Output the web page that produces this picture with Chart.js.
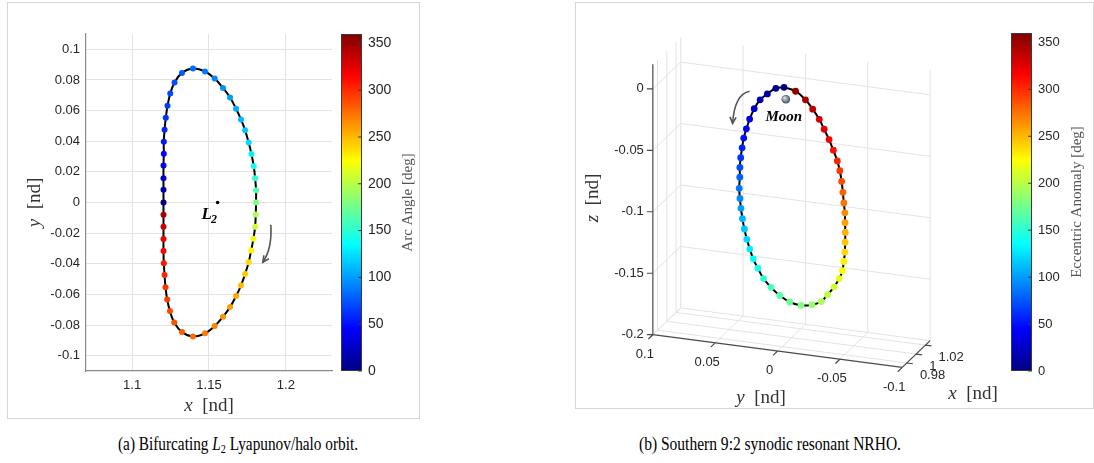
<!DOCTYPE html>
<html>
<head>
<meta charset="utf-8">
<script src="https://cdn.jsdelivr.net/npm/chart.js@4.4.1/dist/chart.umd.min.js"></script>
<style>
  body { margin: 0; background: #fff; width: 1094px; height: 463px; overflow: hidden; position: relative; }
  .panel { position: absolute; border: 1px solid #d6d6d6; background: #fff; }
  .panel canvas { display: block; }
  #panelA { left: 7px; top: 2px; width: 411px; height: 415px; }
  #panelB { left: 575px; top: 2px; width: 517px; height: 405px; }
  .caption { position: absolute; top: 434px; font-family: "Liberation Serif", "Times New Roman", serif; font-size: 18px; color: #000; white-space: nowrap; }
  .caption sub { font-size: 12px; vertical-align: -3px; line-height: 0; }
</style>
</head>
<body>
<div class="panel" id="panelA"><canvas id="chartA" width="411" height="415"></canvas></div>
<div class="panel" id="panelB"><canvas id="chartB" width="517" height="405"></canvas></div>
<div class="caption" id="capA">(a) Bifurcating <i>L</i><sub>2</sub> Lyapunov/halo orbit.</div>
<div class="caption" id="capB">(b) Southern 9:2 synodic resonant NRHO.</div>

<script>
// ---- (a) L2 Lyapunov/halo orbit, x-y plane ----
const orbitX = [1.1204, 1.1204, 1.1204, 1.1204, 1.1206, 1.1206, 1.1211, 1.1219, 1.1230, 1.1248,
                1.1276, 1.1324, 1.1396, 1.1474, 1.1537, 1.1591, 1.1637, 1.1676, 1.1708, 1.1735,
                1.1758, 1.1776, 1.1791, 1.1800, 1.1806, 1.1806, 1.1804, 1.1800, 1.1789, 1.1774,
                1.1758, 1.1735, 1.1708, 1.1676, 1.1637, 1.1591, 1.1537, 1.1474, 1.1396, 1.1324,
                1.1274, 1.1246, 1.1228, 1.1217, 1.1211, 1.1206, 1.1204, 1.1204, 1.1204, 1.1204];
const orbitY = [0.0000, 0.0083, 0.0159, 0.0241, 0.0319, 0.0397, 0.0475, 0.0553, 0.0631, 0.0712,
                0.0783, 0.0846, 0.0874, 0.0855, 0.0809, 0.0748, 0.0686, 0.0612, 0.0542, 0.0471,
                0.0391, 0.0317, 0.0237, 0.0159, 0.0080, 0.0000, -0.0078, -0.0158, -0.0236, -0.0314,
                -0.0390, -0.0466, -0.0542, -0.0611, -0.0683, -0.0746, -0.0807, -0.0854, -0.0874, -0.0846,
                -0.0783, -0.0709, -0.0633, -0.0553, -0.0473, -0.0397, -0.0316, -0.0238, -0.0158, -0.0080];
const arcAngle = [0, 15.4, 27.9, 38.7, 46.9, 53.0, 58.2, 62.7, 66.4, 70.1,
                  73.7, 77.9, 82.9, 87.9, 92.3, 96.6, 100.9, 105.6, 110.5, 116.0,
                  122.9, 130.5, 140.4, 151.7, 165.1, 180.0, 194.6, 208.2, 219.7, 229.4,
                  237.0, 243.7, 249.5, 254.4, 259.1, 263.4, 267.7, 272.1, 277.1, 282.1,
                  286.4, 290.1, 293.6, 297.5, 301.9, 307.0, 313.6, 321.7, 332.3, 345.1];
const l2Point = { x: 1.1556, y: 0 };
const aXTicks = [1.1, 1.15, 1.2];
const aYTicks = [-0.1, -0.08, -0.06, -0.04, -0.02, 0, 0.02, 0.04, 0.06, 0.08, 0.1];

// ---- (b) 9:2 NRHO, 3-D ----
const nrhoX = [0.9880, 0.9884, 0.9894, 0.9905, 0.9920, 0.9937, 0.9953, 0.9968, 0.9984, 0.9999,
               1.0016, 1.0031, 1.0048, 1.0064, 1.0080, 1.0096, 1.0111, 1.0127, 1.0142, 1.0156,
               1.0170, 1.0185, 1.0198, 1.0208, 1.0217, 1.0220, 1.0216, 1.0210, 1.0197, 1.0184,
               1.0170, 1.0156, 1.0142, 1.0127, 1.0111, 1.0096, 1.0080, 1.0065, 1.0050, 1.0033,
               1.0016, 0.9999, 0.9985, 0.9969, 0.9953, 0.9938, 0.9924, 0.9909, 0.9896, 0.9884];
const nrhoY = [0.0015, 0.0082, 0.0154, 0.0216, 0.0269, 0.0312, 0.0344, 0.0371, 0.0390, 0.0407,
               0.0420, 0.0426, 0.0437, 0.0437, 0.0435, 0.0429, 0.0419, 0.0405, 0.0387, 0.0365,
               0.0333, 0.0293, 0.0238, 0.0171, 0.0095, 0.0005, -0.0084, -0.0160, -0.0216, -0.0273,
               -0.0320, -0.0350, -0.0367, -0.0381, -0.0389, -0.0396, -0.0400, -0.0404, -0.0401, -0.0400,
               -0.0396, -0.0388, -0.0373, -0.0347, -0.0319, -0.0285, -0.0251, -0.0204, -0.0151, -0.0076];
const nrhoZ = [0.0078, 0.0060, 0.0001, -0.0059, -0.0144, -0.0240, -0.0330, -0.0414, -0.0502, -0.0590,
               -0.0677, -0.0763, -0.0861, -0.0949, -0.1035, -0.1124, -0.1212, -0.1300, -0.1382, -0.1464,
               -0.1541, -0.1625, -0.1694, -0.1755, -0.1801, -0.1818, -0.1799, -0.1761, -0.1693, -0.1617,
               -0.1538, -0.1465, -0.1383, -0.1299, -0.1212, -0.1126, -0.1040, -0.0954, -0.0869, -0.0776,
               -0.0682, -0.0590, -0.0507, -0.0417, -0.0329, -0.0244, -0.0163, -0.0081, -0.0007, 0.0057];
const eccAnomaly = [0, 7.2, 14.4, 21.6, 28.8, 36.0, 43.2, 50.4, 57.6, 64.8,
                    72.0, 79.2, 86.4, 93.6, 100.8, 108.0, 115.2, 122.4, 129.6, 136.8,
                    144.0, 151.2, 158.4, 165.6, 172.8, 180.0, 187.2, 194.4, 201.6, 208.8,
                    216.0, 223.2, 230.4, 237.6, 244.8, 252.0, 259.2, 266.4, 273.6, 280.8,
                    288.0, 295.2, 302.4, 309.6, 316.8, 324.0, 331.2, 338.4, 345.6, 352.8];
const moonPos = { x: 0.98785, y: 0, z: 0 };
const bXTicks = [0.98, 1, 1.02];
const bYTicks = [0.1, 0.05, 0, -0.05, -0.1];
const bZTicks = [-0.2, -0.15, -0.1, -0.05, 0];

const cbTicks = [0, 50, 100, 150, 200, 250, 300, 350];
const cbMax = 360;

const SANS = '"Liberation Sans", Arial, sans-serif';
const SERIF = '"Liberation Serif", "Times New Roman", serif';
const TICK_FONT = '13px ' + SANS;
const TICK_COLOR = '#262626';
const GRID_COLOR = '#e3e3e3';

const fmt = v => String(parseFloat(v.toFixed(4)));

// MATLAB-style jet colormap, v in [0, 1]
function jet(v) {
    const c = t => Math.max(0, Math.min(1, t));
    const r = c(1.5 - Math.abs(4 * v - 3));
    const g = c(1.5 - Math.abs(4 * v - 2));
    const b = c(1.5 - Math.abs(4 * v - 1));
    return `rgb(${Math.round(r * 255)},${Math.round(g * 255)},${Math.round(b * 255)})`;
}

function drawColorbar(ctx, box, label, labelX, fontSize) {
    const { left, top, right, bottom } = box;
    const grad = ctx.createLinearGradient(0, bottom, 0, top);
    for (let i = 0; i <= 40; i++) grad.addColorStop(i / 40, jet(i / 40));
    ctx.save();
    ctx.fillStyle = grad;
    ctx.fillRect(left, top, right - left, bottom - top);
    ctx.strokeStyle = '#3a3a3a';
    ctx.lineWidth = 1;
    ctx.strokeRect(left + 0.5, top + 0.5, right - left - 1, bottom - top - 1);
    ctx.font = fontSize + 'px ' + SANS;
    ctx.fillStyle = TICK_COLOR;
    ctx.textAlign = 'left';
    ctx.textBaseline = 'middle';
    cbTicks.forEach(t => {
        const y = bottom - t / cbMax * (bottom - top);
        ctx.beginPath();
        ctx.moveTo(right - 4, y);
        ctx.lineTo(right, y);
        ctx.stroke();
        ctx.fillText(String(t), right + 6, y);
    });
    // rotated colorbar title
    ctx.translate(labelX, (top + bottom) / 2);
    ctx.rotate(-Math.PI / 2);
    ctx.font = '15px ' + SERIF;
    ctx.fillStyle = '#555';
    ctx.textAlign = 'center';
    ctx.fillText(label, 0, 0);
    ctx.restore();
}

// axis title like "y [nd]": italic variable + upright unit
function drawAxisTitle(ctx, x, y, sym, rotate) {
    ctx.save();
    ctx.translate(x, y);
    if (rotate) ctx.rotate(-Math.PI / 2);
    const fI = 'italic 19px ' + SERIF;
    const fN = '19px ' + SERIF;
    ctx.font = fI; const w1 = ctx.measureText(sym).width;
    ctx.font = fN; const w2 = ctx.measureText('  [nd]').width;
    const x0 = -(w1 + w2) / 2;
    ctx.fillStyle = '#333';
    ctx.textBaseline = 'middle';
    ctx.textAlign = 'left';
    ctx.font = fI; ctx.fillText(sym, x0, 0);
    ctx.font = fN; ctx.fillText('  [nd]', x0 + w1, 0);
    ctx.restore();
}

function drawCurvedArrow(ctx, p0, pc, p1) {
    ctx.save();
    ctx.strokeStyle = '#555';
    ctx.lineWidth = 1.6;
    ctx.beginPath();
    ctx.moveTo(p0[0], p0[1]);
    ctx.quadraticCurveTo(pc[0], pc[1], p1[0], p1[1]);
    ctx.stroke();
    const ang = Math.atan2(p1[1] - pc[1], p1[0] - pc[0]);
    const L = 7;
    ctx.beginPath();
    ctx.moveTo(p1[0] - L * Math.cos(ang - 0.45), p1[1] - L * Math.sin(ang - 0.45));
    ctx.lineTo(p1[0], p1[1]);
    ctx.lineTo(p1[0] - L * Math.cos(ang + 0.45), p1[1] - L * Math.sin(ang + 0.45));
    ctx.stroke();
    ctx.restore();
}

function drawBodyLabel(ctx, x, y, main, sub, size) {
    ctx.save();
    ctx.fillStyle = '#000';
    ctx.textBaseline = 'alphabetic';
    ctx.textAlign = 'left';
    ctx.font = `bold italic ${size}px ${SERIF}`;
    ctx.fillText(main, x, y);
    if (sub) {
        const w = ctx.measureText(main).width;
        ctx.font = `bold italic ${Math.round(size * 0.68)}px ${SERIF}`;
        ctx.fillText(sub, x + w - 1, y + 4);
    }
    ctx.restore();
}

// ---------- chart (a) ----------
const aPoints = orbitX.map((x, i) => ({ x, y: orbitY[i] }));
const aLine = aPoints.concat([aPoints[0]]);

const panelAExtras = {
    id: 'panelAExtras',
    afterDraw(chart) {
        const { ctx, chartArea, scales } = chart;
        drawColorbar(ctx, { left: 333, top: chartArea.top, right: 354, bottom: chartArea.bottom },
            'Arc Angle [deg]', 400, 14);
        drawAxisTitle(ctx, 27, (chartArea.top + chartArea.bottom) / 2, 'y', true);
        drawAxisTitle(ctx, (chartArea.left + chartArea.right) / 2, 403, 'x', false);

        // L2 point and label
        const lx = scales.x.getPixelForValue(l2Point.x);
        const ly = scales.y.getPixelForValue(l2Point.y);
        ctx.save();
        ctx.fillStyle = '#000';
        ctx.beginPath();
        ctx.arc(lx, ly, 1.8, 0, Math.PI * 2);
        ctx.fill();
        ctx.restore();
        drawBodyLabel(ctx, lx - 16, ly + 16, 'L', '2', 17);

        // direction of motion
        const p = (x, y) => [scales.x.getPixelForValue(x), scales.y.getPixelForValue(y)];
        drawCurvedArrow(ctx, p(1.1902, -0.0145), p(1.1912, -0.0300), p(1.1850, -0.0390));
    }
};

new Chart(document.getElementById('chartA'), {
    type: 'scatter',
    data: {
        datasets: [
            {
                data: aPoints,
                showLine: false,
                pointRadius: 3,
                pointBorderWidth: 0,
                pointBackgroundColor: arcAngle.map(a => jet(a / cbMax)),
                order: 0
            },
            {
                data: aLine,
                showLine: true,
                tension: 0.4,
                borderColor: '#000',
                borderWidth: 2,
                pointRadius: 0,
                order: 1
            }
        ]
    },
    options: {
        responsive: false,
        devicePixelRatio: 1,
        animation: false,
        events: [],
        layout: { padding: { top: 31, right: 87, left: 0, bottom: 0 } },
        plugins: { legend: { display: false }, tooltip: { enabled: false } },
        scales: {
            x: {
                type: 'linear',
                min: 1.07,
                max: 1.23,
                afterBuildTicks: s => { s.ticks = aXTicks.map(v => ({ value: v })); },
                afterFit: s => { s.height = 47; },
                ticks: { font: { size: 13, family: SANS }, color: TICK_COLOR, padding: 7, callback: v => fmt(v) },
                grid: { color: GRID_COLOR, drawTicks: false },
                border: { color: '#8a8a8a', width: 1.2 }
            },
            y: {
                type: 'linear',
                min: -0.11,
                max: 0.11,
                afterBuildTicks: s => { s.ticks = aYTicks.map(v => ({ value: v })); },
                afterFit: s => { s.width = 78; },
                ticks: { font: { size: 13, family: SANS }, color: TICK_COLOR, padding: 6, callback: v => fmt(v) },
                grid: { color: GRID_COLOR, drawTicks: false },
                border: { color: '#8a8a8a', width: 1.2 }
            }
        }
    },
    plugins: [panelAExtras]
});

// ---------- chart (b) ----------
// oblique view of the axes box: canvas position of (xmin, ymax, zmin) and
// the screen vectors spanned by the full x, y (max -> min) and z ranges
const bRange = { x: [0.97, 1.03], y: [-0.1, 0.1], z: [-0.2, 0.02] };
const bView = { origin: [74, 334.3], ex: [28.3, -27.3], ey: [253.3, 33.4], ez: [0, -275.9] };

function project(x, y, z) {
    const fx = (x - bRange.x[0]) / (bRange.x[1] - bRange.x[0]);
    const fy = (bRange.y[1] - y) / (bRange.y[1] - bRange.y[0]);
    const fz = (z - bRange.z[0]) / (bRange.z[1] - bRange.z[0]);
    return {
        x: bView.origin[0] + fx * bView.ex[0] + fy * bView.ey[0] + fz * bView.ez[0],
        y: bView.origin[1] + fx * bView.ex[1] + fy * bView.ey[1] + fz * bView.ez[1]
    };
}

const bPoints = nrhoX.map((x, i) => project(x, nrhoY[i], nrhoZ[i]));
const bLine = bPoints.concat([bPoints[0]]);
const [X0, X1] = bRange.x, [Y0, Y1] = bRange.y, [Z0, Z1] = bRange.z;

const panelBExtras = {
    id: 'panelBExtras',
    beforeDatasetsDraw(chart) {
        const { ctx, scales } = chart;
        const px = (x, y, z) => { const p = project(x, y, z); return [scales.x.getPixelForValue(p.x), scales.y.getPixelForValue(p.y)]; };
        const seg = (a, b) => { ctx.moveTo(a[0], a[1]); ctx.lineTo(b[0], b[1]); };
        ctx.save();
        ctx.strokeStyle = GRID_COLOR;
        ctx.lineWidth = 1;
        ctx.beginPath();
        bZTicks.forEach(z => { seg(px(X1, Y1, z), px(X1, Y0, z)); seg(px(X0, Y1, z), px(X1, Y1, z)); });
        bYTicks.forEach(y => { seg(px(X1, y, Z0), px(X1, y, Z1)); seg(px(X0, y, Z0), px(X1, y, Z0)); });
        bXTicks.forEach(x => { seg(px(x, Y1, Z0), px(x, Y1, Z1)); seg(px(x, Y0, Z0), px(x, Y1, Z0)); });
        ctx.stroke();

        // axis lines
        ctx.strokeStyle = '#4a4a4a';
        ctx.lineWidth = 1.2;
        ctx.beginPath();
        seg(px(X0, Y1, Z0), px(X0, Y1, Z1));
        seg(px(X0, Y1, Z0), px(X0, Y0, Z0));
        seg(px(X0, Y0, Z0), px(X1, Y0, Z0));
        // tick marks
        bZTicks.forEach(z => { const p = px(X0, Y1, z); seg(p, [p[0] - 6, p[1]]); });
        bYTicks.forEach(y => { const p = px(X0, y, Z0); seg(p, [p[0] - 4.5, p[1] + 4.3]); });
        bXTicks.forEach(x => { const p = px(x, Y0, Z0); seg(p, [p[0] + 6, p[1] + 0.8]); });
        ctx.stroke();

        ctx.font = TICK_FONT;
        ctx.fillStyle = TICK_COLOR;
        ctx.textBaseline = 'middle';
        ctx.textAlign = 'right';
        bZTicks.forEach(z => { const p = px(X0, Y1, z); ctx.fillText(fmt(z), p[0] - 9, p[1]); });
        ctx.textAlign = 'center';
        bYTicks.forEach(y => { const p = px(X0, y, Z0); ctx.fillText(fmt(y), p[0] - 8, p[1] + 19.5); });
        ctx.textAlign = 'left';
        bXTicks.forEach(x => { const p = px(x, Y0, Z0); ctx.fillText(fmt(x), p[0] + 13, p[1] + 12); });
        ctx.restore();
    },
    afterDraw(chart) {
        const { ctx, scales } = chart;
        drawColorbar(ctx, { left: 435, top: 30, right: 456, bottom: 368 }, 'Eccentric Anomaly [deg]', 501, 13);
        drawAxisTitle(ctx, 17, 195, 'z', true);
        drawAxisTitle(ctx, 185, 395, 'y', false);
        drawAxisTitle(ctx, 397, 391, 'x', false);

        // Moon
        const m = project(moonPos.x, moonPos.y, moonPos.z);
        const mx = scales.x.getPixelForValue(m.x), my = scales.y.getPixelForValue(m.y) + 2;
        ctx.save();
        const g = ctx.createRadialGradient(mx - 1.5, my - 1.5, 0.5, mx, my, 4.5);
        g.addColorStop(0, '#d8dde2');
        g.addColorStop(0.6, '#7f8790');
        g.addColorStop(1, '#3f454c');
        ctx.fillStyle = g;
        ctx.beginPath();
        ctx.arc(mx, my, 4.3, 0, Math.PI * 2);
        ctx.fill();
        ctx.restore();
        ctx.save();
        ctx.font = 'bold italic 15px ' + SERIF;
        ctx.textAlign = 'center';
        ctx.fillStyle = '#000';
        ctx.fillText('Moon', mx - 2, my + 22);
        ctx.restore();

        // direction of motion
        const v = (x, y) => [scales.x.getPixelForValue(x), scales.y.getPixelForValue(y)];
        drawCurvedArrow(ctx, v(172.3, 86), v(157, 89), v(155, 118.7));
    }
};

new Chart(document.getElementById('chartB'), {
    type: 'scatter',
    data: {
        datasets: [
            {
                data: bPoints,
                showLine: false,
                pointRadius: 3.4,
                pointBorderWidth: 0,
                pointBackgroundColor: eccAnomaly.map(a => jet(a / cbMax)),
                order: 0
            },
            {
                data: bLine,
                showLine: true,
                tension: 0.4,
                borderColor: '#000',
                borderWidth: 2,
                pointRadius: 0,
                order: 1
            }
        ]
    },
    options: {
        responsive: false,
        devicePixelRatio: 1,
        animation: false,
        events: [],
        layout: { padding: 0 },
        plugins: { legend: { display: false }, tooltip: { enabled: false } },
        scales: {
            x: { type: 'linear', display: false, min: 0, max: 517 },
            y: { type: 'linear', display: false, min: 0, max: 405, reverse: true }
        }
    },
    plugins: [panelBExtras]
});

// captions: centre under each panel at the printed width
[['capA', 238, 240], ['capB', 770, 262]].forEach(([id, cx, w]) => {
    const el = document.getElementById(id);
    const r = el.getBoundingClientRect();
    el.style.transformOrigin = '0 0';
    el.style.transform = `scaleX(${w / r.width})`;
    el.style.left = (cx - w / 2) + 'px';
});
</script>
</body>
</html>
